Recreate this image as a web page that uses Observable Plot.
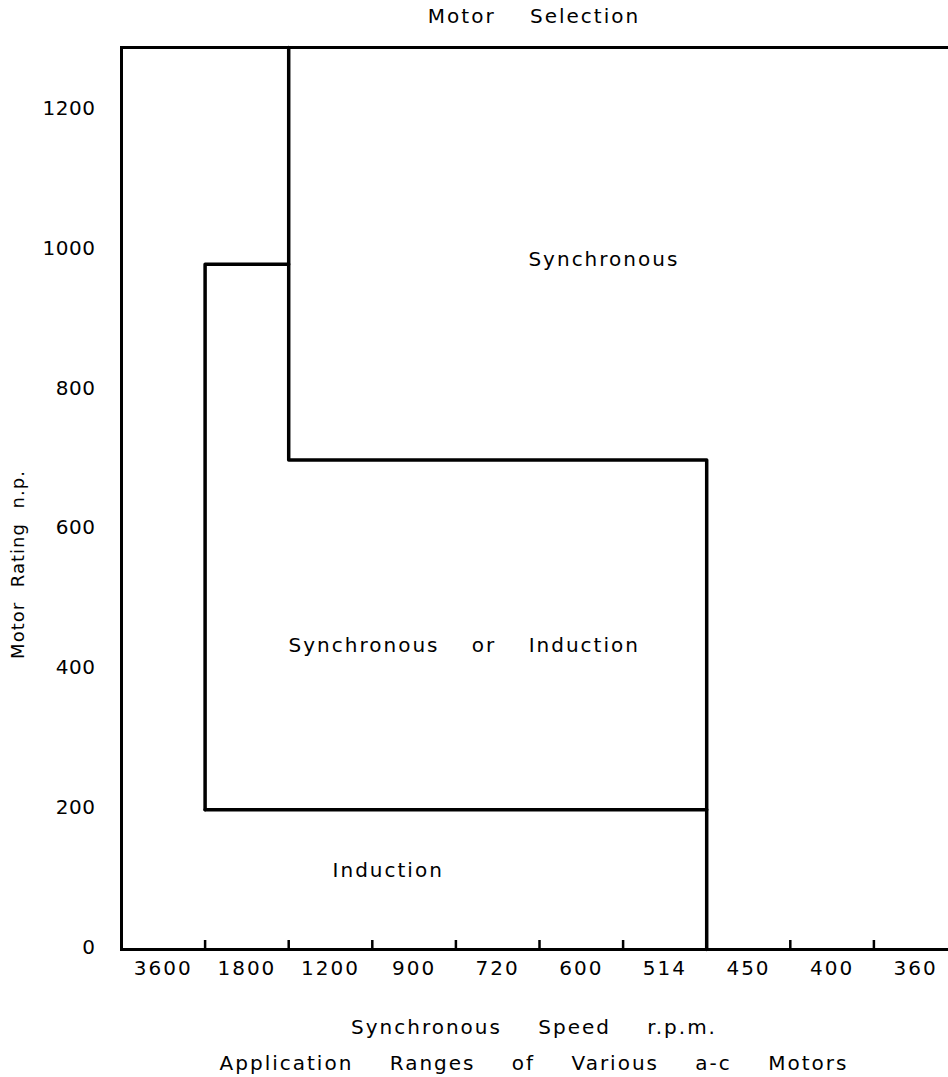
<!DOCTYPE html>
<html><head><meta charset="utf-8">
<script src="https://cdn.jsdelivr.net/npm/d3@7"></script>
<script src="https://cdn.jsdelivr.net/npm/@observablehq/plot@0.6"></script>
<style>
body{margin:0;background:#fff;font-family:"DejaVu Sans",sans-serif;color:#000}
#title{height:32px;line-height:32px;margin-left:120px;width:828px;text-align:center;font-size:20px;letter-spacing:2px;word-spacing:26px}
#caption{margin-left:120px;width:828px;text-align:center;font-size:20px;letter-spacing:2px;word-spacing:28px;line-height:36px;padding-top:9px}
#chart svg g[aria-label="y-axis tick label"] text{letter-spacing:0.5px}
#chart svg > g:last-of-type text{letter-spacing:1px;word-spacing:8px}
</style></head><body>
<div id="title">Motor Selection</div>
<div id="chart"></div>
<div id="caption"><div>Synchronous Speed r.p.m.</div><div>Application Ranges of Various a-c Motors</div></div>
<script>
// Synchronous speed categories (r.p.m.), one per band along x
const speedLabels = ["3600","1800","1200","900","720","600","514","450","400","360"];
// Band edges where the tick marks sit
const bandEdges = [1,2,3,4,5,6,7,8,9];
// Motor rating ticks (h.p.)
const ratingTicks = [0,200,400,600,800,1000,1200];
const ratingMax = 1290;
// Region boundary lines (band index, h.p.)
const synchronousEdgeBand = [2, 2, 7, 7];
const synchronousEdgeHp   = [1290, 700, 700, 0];
const upperLeftEdgeBand   = [1, 1, 2];
const upperLeftEdgeHp     = [200, 980, 980];
const inductionEdgeBand   = [1, 7];
const inductionEdgeHp     = [200, 200];
// Region labels
const regionNames = ["Synchronous", "Synchronous or Induction", "Induction"];
const regionBand  = [5.77, 4.1, 3.19];
const regionHp    = [986, 434, 113];

const toPts = (xs, ys) => xs.map((b, i) => ({band: b, hp: ys[i]}));
const regions = regionNames.map((n, i) => ({name: n, band: regionBand[i], hp: regionHp[i]}));
const bandCenters = speedLabels.map((_, i) => i + 0.5);

const chart = Plot.plot({
  width: 948,
  height: 968,
  marginLeft: 120,
  marginRight: 0,
  marginTop: 15,
  marginBottom: 51,
  style: {fontFamily: "DejaVu Sans, sans-serif", fontSize: "20px", color: "#000", background: "#fff", letterSpacing: "2px", wordSpacing: "24px"},
  x: {domain: [0, 10], range: [121, 957]},
  y: {domain: [0, ratingMax]},
  marks: [
    Plot.ruleY([0, ratingMax], {stroke: "#000", strokeWidth: 3}),
    Plot.ruleX([0], {stroke: "#000", strokeWidth: 3, y1: 0, y2: ratingMax}),
    Plot.axisX(bandEdges, {tickSize: -9, strokeWidth: 2.5, text: null, label: null}),
    Plot.axisX(bandCenters, {tickSize: 0, tickPadding: 11, tickFormat: d => speedLabels[Math.floor(d)], label: null, fontSize: 20}),
    Plot.axisY(ratingTicks, {tickSize: 0, tickPadding: 25, tickFormat: d => String(d), label: null, fontSize: 20, dy: -2}),
    Plot.line(toPts(synchronousEdgeBand, synchronousEdgeHp), {x: "band", y: "hp", stroke: "#000", strokeWidth: 3.5}),
    Plot.line(toPts(upperLeftEdgeBand, upperLeftEdgeHp), {x: "band", y: "hp", stroke: "#000", strokeWidth: 3.5}),
    Plot.line(toPts(inductionEdgeBand, inductionEdgeHp), {x: "band", y: "hp", stroke: "#000", strokeWidth: 3.5}),
    Plot.text(regions, {x: "band", y: "hp", text: "name", fontSize: 20, fill: "#000"}),
    Plot.text(["Motor Rating n.p."], {frameAnchor: "left", rotate: -90, dx: -102, dy: 66, fontSize: 18, fill: "#000", textAnchor: "middle"})
  ]
});
document.getElementById("chart").appendChild(chart);
</script>
</body></html>
